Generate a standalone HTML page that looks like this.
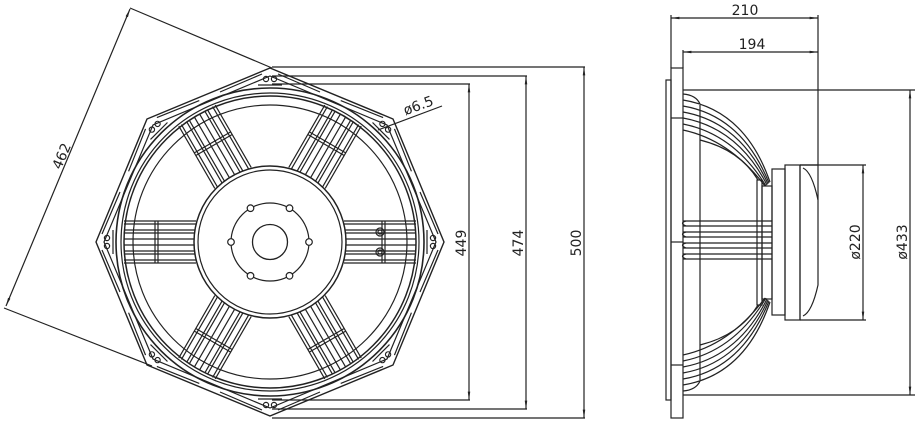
<!DOCTYPE html>
<html><head><meta charset="utf-8"><style>
html,body{margin:0;padding:0;background:#fff;}
svg{display:block;}
text{font-family:"DejaVu Sans","Liberation Sans",sans-serif;font-size:14px;fill:#222;}
</style></head><body>
<svg width="916" height="422" viewBox="0 0 916 422" xmlns="http://www.w3.org/2000/svg">
<defs>
<marker id="a" viewBox="0 0 10 10" refX="10" refY="5" markerWidth="7" markerHeight="7" orient="auto-start-reverse"><path d="M0,3.5 L10,5 L0,6.5z" fill="#222"/></marker>
<g id="spoke">
  <line x1="74" y1="-21" x2="146" y2="-21"/><line x1="74" y1="-18" x2="146" y2="-18"/>
  <line x1="74" y1="-12" x2="146" y2="-12"/><line x1="74" y1="-9" x2="146" y2="-9"/>
  <line x1="74" y1="-3" x2="146" y2="-3"/><line x1="74" y1="3" x2="146" y2="3"/>
  <line x1="74" y1="9" x2="146" y2="9"/><line x1="74" y1="12" x2="146" y2="12"/>
  <line x1="74" y1="18" x2="146" y2="18"/><line x1="74" y1="21" x2="146" y2="21"/>
  <line x1="112" y1="-21" x2="112" y2="21"/><line x1="115" y1="-21" x2="115" y2="21"/>
</g>
<g id="lug">
  <circle cx="163" cy="-4" r="2.6"/><circle cx="163" cy="4" r="2.6"/>
  <line x1="157" y1="-12" x2="157" y2="12"/>
  <path d="M168,-8 L150,-50 M168,8 L150,50"/>
</g>
</defs>

<g fill="none" stroke="#222" stroke-width="1.2">
<g transform="translate(270,242)">
  <polygon points="174,0 123,-123 0,-174 -123,-123 -174,0 -123,123 0,174 123,123" stroke-width="1.4"/>
  <polygon points="166,0 117,-117 0,-166 -117,-117 -166,0 -117,117 0,166 117,117"/>
  <circle r="154" stroke-width="1.6"/>
  <circle r="149"/>
  <circle r="146" stroke-width="1.5"/>
  <circle r="137"/>
  <g><use href="#spoke"/><use href="#spoke" transform="rotate(60)"/><use href="#spoke" transform="rotate(120)"/>
     <use href="#spoke" transform="rotate(180)"/><use href="#spoke" transform="rotate(240)"/><use href="#spoke" transform="rotate(300)"/></g>
  <g><use href="#lug"/><use href="#lug" transform="rotate(45)"/><use href="#lug" transform="rotate(90)"/><use href="#lug" transform="rotate(135)"/>
     <use href="#lug" transform="rotate(180)"/><use href="#lug" transform="rotate(225)"/><use href="#lug" transform="rotate(270)"/><use href="#lug" transform="rotate(315)"/></g>
  <circle r="76" fill="#fff" stroke-width="1.5"/>
  <circle r="72"/>
  <circle r="39"/>
  <circle r="17.5" stroke-width="1.3"/>
  <circle cx="39" cy="0" r="3.3" fill="#fff"/><circle cx="-39" cy="0" r="3.3" fill="#fff"/>
  <circle cx="19.5" cy="-33.8" r="3.3" fill="#fff"/><circle cx="-19.5" cy="-33.8" r="3.3" fill="#fff"/>
  <circle cx="19.5" cy="33.8" r="3.3" fill="#fff"/><circle cx="-19.5" cy="33.8" r="3.3" fill="#fff"/>
  <circle cx="110" cy="-10" r="4"/><circle cx="110" cy="-10" r="2"/>
  <circle cx="110" cy="10" r="4"/><circle cx="110" cy="10" r="2"/>
</g>
<line x1="130" y1="8" x2="272" y2="68"/>
<line x1="4" y1="308" x2="152" y2="366"/>
<line x1="130" y1="9" x2="6" y2="306" marker-start="url(#a)" marker-end="url(#a)"/>
<line x1="378" y1="130" x2="442" y2="106"/>
<line x1="272" y1="84" x2="470" y2="84"/>
<line x1="272" y1="400" x2="470" y2="400"/>
<line x1="469" y1="84" x2="469" y2="400" marker-start="url(#a)" marker-end="url(#a)"/>
<line x1="272" y1="76" x2="527" y2="76"/>
<line x1="272" y1="409" x2="527" y2="409"/>
<line x1="526" y1="76" x2="526" y2="409" marker-start="url(#a)" marker-end="url(#a)"/>
<line x1="272" y1="67" x2="585" y2="67"/>
<line x1="272" y1="418" x2="585" y2="418"/>
<line x1="584" y1="67" x2="584" y2="418" marker-start="url(#a)" marker-end="url(#a)"/>

<rect x="666" y="80" width="5" height="320"/>
<rect x="671" y="68" width="12" height="350"/>
<line x1="671" y1="118" x2="683" y2="118"/><line x1="671" y1="242" x2="683" y2="242"/><line x1="671" y1="365" x2="683" y2="365"/>
<line x1="683" y1="90" x2="915" y2="90"/>
<line x1="683" y1="395" x2="915" y2="395"/>
<line x1="700" y1="105" x2="700" y2="380"/>
<path d="M683,94 Q696,95 700,104"/>
<path d="M683,100 Q745,110 770,182"/>
<path d="M683,106 Q742,116 769,183"/>
<path d="M683,112 Q740,122 768,184"/>
<path d="M683,118 Q738,128 767,185"/>
<path d="M683,124 Q734,134 766,186"/>
<path d="M683,130 Q730,140 765,186"/>
<path d="M700,140 Q740,150 758,180"/>
<path d="M683,391 Q696,390 700,381"/>
<path d="M683,385 Q745,375 770,302"/>
<path d="M683,379 Q742,369 769,301"/>
<path d="M683,373 Q740,363 768,300"/>
<path d="M683,367 Q738,357 767,299"/>
<path d="M683,361 Q734,351 766,298"/>
<path d="M683,355 Q730,345 765,298"/>
<path d="M700,345 Q740,335 758,305"/>
<path d="M683,221 H772 M683,226 H772 M683,232 H772 M683,237 H772 M683,243 H772 M683,248 H772 M683,254 H772 M683,259 H772"/>
<path d="M686,221 Q679,223 686,226 M686,232 Q679,234 686,237 M686,243 Q679,245 686,248 M686,254 Q679,256 686,259"/>
<rect x="757" y="180" width="5" height="125"/>
<rect x="762" y="186" width="10" height="113"/>
<rect x="772" y="169" width="13" height="146"/>
<rect x="785" y="165" width="15" height="155"/>
<path d="M800,165 V320 M800,165 H818 M800,320 H866"/>
<path d="M803,168 Q812,172 818,200 V285 Q812,312 803,316"/>
<line x1="800" y1="165" x2="866" y2="165"/>
<line x1="671" y1="15" x2="671" y2="68"/>
<line x1="683" y1="50" x2="683" y2="68"/>
<line x1="818" y1="15" x2="818" y2="200"/>
<line x1="671" y1="18" x2="818" y2="18" marker-start="url(#a)" marker-end="url(#a)"/>
<line x1="683" y1="52" x2="818" y2="52" marker-start="url(#a)" marker-end="url(#a)"/>
<line x1="863" y1="165" x2="863" y2="320" marker-start="url(#a)" marker-end="url(#a)"/>
<line x1="910" y1="90" x2="910" y2="395" marker-start="url(#a)" marker-end="url(#a)"/>
</g>

<text x="745" y="15" text-anchor="middle">210</text>
<text x="752" y="49" text-anchor="middle">194</text>
<text transform="translate(860,242) rotate(-90)" text-anchor="middle">ø220</text>
<text transform="translate(907,242) rotate(-90)" text-anchor="middle">ø433</text>
<text transform="translate(466,243) rotate(-90)" text-anchor="middle">449</text>
<text transform="translate(523,243) rotate(-90)" text-anchor="middle">474</text>
<text transform="translate(581,243) rotate(-90)" text-anchor="middle">500</text>
<text transform="translate(66,158) rotate(-67)" text-anchor="middle">462</text>
<text transform="translate(420,110) rotate(-20)" text-anchor="middle">ø6.5</text>
</svg>
</body></html>
